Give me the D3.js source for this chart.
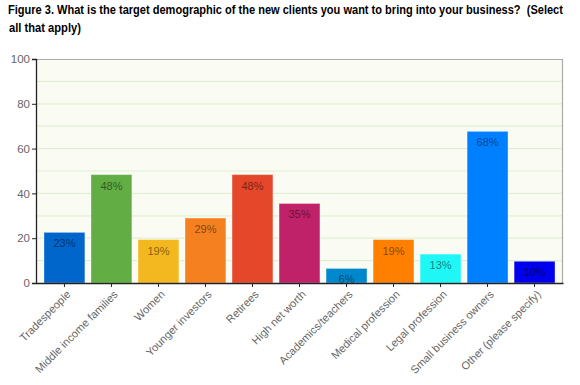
<!DOCTYPE html>
<html>
<head>
<meta charset="utf-8">
<script src="https://cdn.jsdelivr.net/npm/d3@7"></script>
<style>
  body { margin: 0; background: #fff; }
</style>
</head>
<body>
<div id="chart"></div>
<script>
// survey answers (percent of respondents)
const categories = ["Tradespeople", "Middle income families", "Women", "Younger investors", "Retirees",
  "High net worth", "Academics/teachers", "Medical profession", "Legal profession",
  "Small business owners", "Other (please specify)"];
const values = [22.6, 48.4, 19.4, 29.0, 48.4, 35.5, 6.5, 19.4, 12.9, 67.7, 9.7];
const barLabels = ["23%", "48%", "19%", "29%", "48%", "35%", "6%", "19%", "13%", "68%", "10%"];
const barColors = ["#0066cc", "#63ad45", "#f3b81f", "#f58020", "#e5472a", "#c0226a",
  "#0088cc", "#ff8000", "#1ff7f7", "#0080ff", "#0000ee"];
const yTicks = [0, 20, 40, 60, 80, 100];
const titleLines = ["Figure 3. What is the target demographic of the new clients you want to bring into your business?  (Select",
  "all that apply)"];

const W = 580, H = 385;
const margin = {top: 59, right: 17, bottom: 102, left: 36};
const width = W - margin.left - margin.right,
      height = H - margin.top - margin.bottom;

const svg = d3.select("#chart").append("svg")
    .attr("width", W)
    .attr("height", H);

// title, squeezed horizontally to look like the narrow original font
const titleSpec = [{x: 8, y: 14, w: 556}, {x: 9, y: 32, w: 72}];
titleLines.forEach(function(line, i) {
  const t = svg.append("g")
      .attr("transform", `translate(${titleSpec[i].x},${titleSpec[i].y})`)
    .append("text")
      .attr("font-family", "'Liberation Sans', Arial, sans-serif")
      .attr("font-weight", "bold")
      .attr("font-size", "12px")
      .attr("fill", "#000")
      .style("white-space", "pre")
      .text(line);
  const natural = t.node().getComputedTextLength();
  t.attr("transform", `scale(${titleSpec[i].w / natural},1)`);
});

const g = svg.append("g")
    .attr("transform", `translate(${margin.left},${margin.top})`);

const x = d3.scaleBand()
    .domain(categories)
    .range([0, width])
    .paddingInner(0.13)
    .paddingOuter(0.17);

const y = d3.scaleLinear()
    .domain([0, 100])
    .range([height, 0]);

// plot background
g.append("rect")
    .attr("width", width)
    .attr("height", height)
    .attr("fill", "#fafcf4");

// grid every 10
g.append("g")
    .selectAll("line")
    .data(d3.range(10, 100, 10))
    .join("line")
      .attr("x1", 0).attr("x2", width)
      .attr("y1", d => y(d)).attr("y2", d => y(d))
      .attr("stroke", "#e1f0d2")
      .attr("stroke-width", 1.2);

// top and right border
g.append("path")
    .attr("d", `M0,0.5H${width - 0.5}V${height}`)
    .attr("fill", "none")
    .attr("stroke", "#aaaaaa")
    .attr("stroke-width", 1.2);

// bars
g.append("g")
    .selectAll("rect")
    .data(values)
    .join("rect")
      .attr("x", (d, i) => x(categories[i]))
      .attr("y", d => y(d))
      .attr("width", x.bandwidth())
      .attr("height", d => height - y(d))
      .attr("fill", (d, i) => barColors[i])
      .attr("stroke", "rgba(255,255,255,0.35)")
      .attr("stroke-width", 1);

// value labels
g.append("g")
    .attr("font-family", "'Liberation Sans', Arial, sans-serif")
    .attr("font-size", "11px")
    .attr("text-anchor", "middle")
    .selectAll("text")
    .data(values)
    .join("text")
      .attr("x", (d, i) => x(categories[i]) + x.bandwidth() / 2)
      .attr("y", d => y(d) + 15)
      .attr("fill", "rgba(0,0,0,0.5)")
      .text((d, i) => barLabels[i]);

// y axis
const yAxis = g.append("g")
    .call(d3.axisLeft(y).tickValues(yTicks).tickSize(4).tickPadding(2));
yAxis.select(".domain").attr("stroke", "#222").attr("stroke-width", 1.3);
yAxis.selectAll(".tick line").attr("stroke", "#222");
yAxis.selectAll("text")
    .attr("font-family", "'Liberation Sans', Arial, sans-serif")
    .attr("font-size", "11.5px")
    .attr("fill", "#666");

// x axis
const xAxis = g.append("g")
    .attr("transform", `translate(0,${height})`)
    .call(d3.axisBottom(x).tickSize(4).tickSizeOuter(0));
xAxis.select(".domain").attr("stroke", "#222").attr("stroke-width", 1.3);
xAxis.selectAll(".tick line").attr("stroke", "#222");
xAxis.selectAll("text")
    .attr("font-family", "'Liberation Sans', Arial, sans-serif")
    .attr("font-size", "11px")
    .attr("fill", "#666")
    .attr("text-anchor", "end")
    .attr("dy", null)
    .attr("y", 0)
    .attr("transform", "translate(7,12) rotate(-45)");
</script>
</body>
</html>
